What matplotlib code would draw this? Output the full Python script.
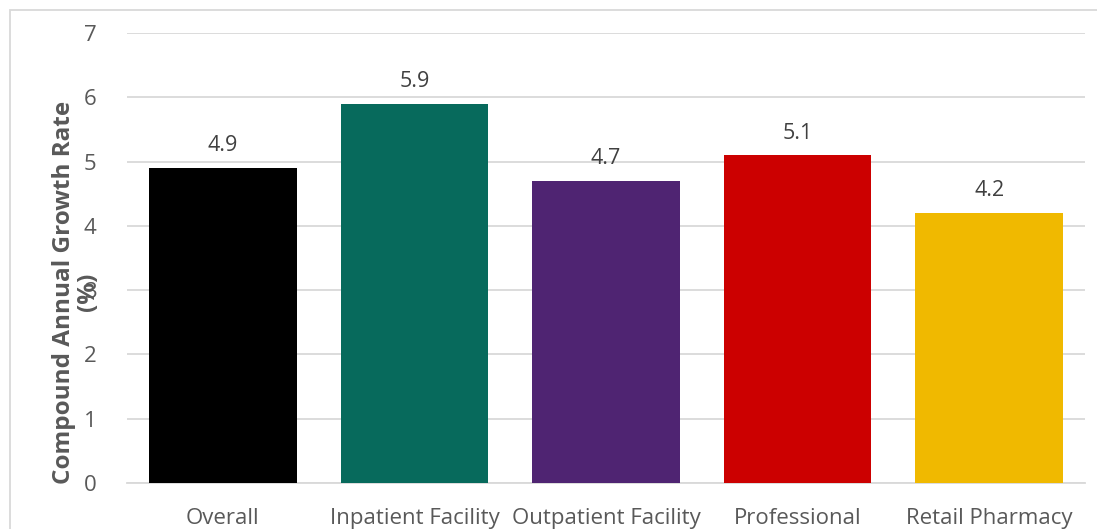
import matplotlib.pyplot as plt
from matplotlib.patches import Rectangle

categories = ['Overall', 'Inpatient Facility', 'Outpatient Facility', 'Professional', 'Retail Pharmacy']
cagr = [4.9, 5.9, 4.7, 5.1, 4.2]
bar_colors = ['#000000', '#076A5C', '#4F2472', '#CC0000', '#F0B900']
yticks = [0, 1, 2, 3, 4, 5, 6, 7]

plt.rcParams['font.family'] = ['Open Sans', 'DejaVu Sans']
txt = '#595959'

fig = plt.figure(figsize=(10.97, 5.29), dpi=100)
ax = fig.add_axes([127/1097, 1 - 483/529, (1085-127)/1097, (483-33)/529])

x = range(len(categories))
bars = ax.bar(x, cagr, width=0.77, color=bar_colors, zorder=3)
for b, v in zip(bars, cagr):
    ax.text(b.get_x() + b.get_width()/2, v + 0.18, f'{v:.1f}', ha='center', va='bottom',
            fontsize=15.5, color='#404040')

ax.set_ylim(0, 7)
ax.set_xlim(-0.5, len(categories) - 0.5)
ax.set_yticks(yticks)
ax.set_xticks(list(x))
ax.set_xticklabels(categories)
ax.tick_params(axis='both', length=0, labelsize=16, labelcolor=txt)
ax.tick_params(axis='y', pad=22)
ax.tick_params(axis='x', pad=18)
ax.grid(axis='y', color='#D9D9D9', linewidth=1.3, zorder=0)
for s in ['top', 'right', 'left']:
    ax.spines[s].set_visible(False)
ax.spines['bottom'].set_color('#D9D9D9')
ax.spines['bottom'].set_linewidth(1.3)

ax.set_ylabel('Compound Annual Growth Rate\n(%)', fontsize=17.5, fontweight='bold',
              color=txt, linespacing=1.0)
ax.yaxis.set_label_coords(-27/958, (483-292)/450)

# outer chart border
fig.patches.append(Rectangle((10/1097, -0.1), 1.1, 1 - 10/529 + 0.1, transform=fig.transFigure,
                             fill=False, edgecolor='#D9D9D9', linewidth=1.3))

plt.savefig('out.png', dpi=100)
